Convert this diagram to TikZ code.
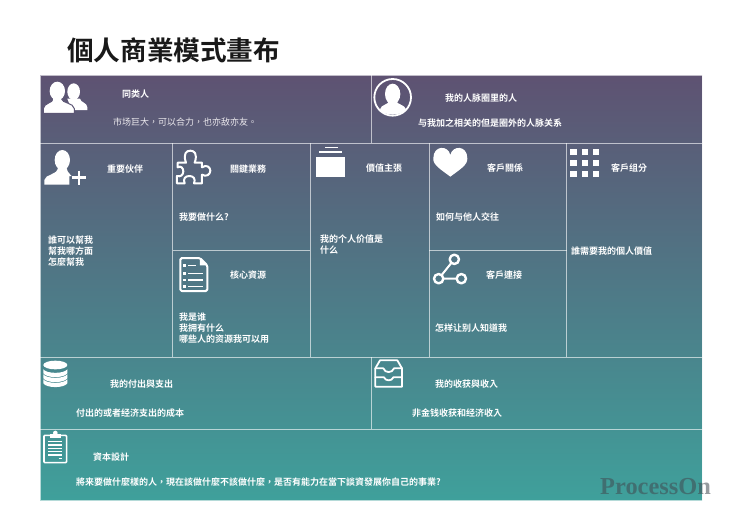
\documentclass[tikz,border=0pt]{standalone}
\usepackage{fontspec}
\setmainfont{Noto Sans CJK TC}[BoldFont={Noto Sans CJK TC Bold}]
\newfontfamily\wmfont{Liberation Serif}
\tikzset{
  x=1pt,y=-1pt,
  gridline/.style={draw=white,draw opacity=.62,line width=1pt},
  lab/.style={anchor=west,inner sep=0pt,text=white,font=\fontsize{9}{11}\selectfont\bfseries,align=left},
  lablight/.style={lab,font=\fontsize{9}{11}\selectfont,text=white!88!topc},
  ico/.style={fill=white,draw=none},
  icoline/.style={draw=white,line width=2pt,line join=round,line cap=round,fill=none},
  zA/.style={shift={(30,20)},scale=1/3},
  zB/.style={shift={(370,70)},scale=1/3},
  zC/.style={shift={(30,230)},scale=1/3},
  zD/.style={shift={(300,230)},scale=1/3},
  zE/.style={shift={(30,350)},scale=1/3},
  zF/.style={shift={(360,350)},scale=1/3},
}
\definecolor{topc}{HTML}{5E5272}
\definecolor{midc}{HTML}{4E7787}
\definecolor{botc}{HTML}{3FA09B}
\begin{document}
\begin{tikzpicture}
\useasboundingbox (0,0) rectangle (740,531);
\fill[white] (0,0) rectangle (740,531);
% canvas
\shade[top color=topc,middle color=midc,bottom color=botc] (40,75) rectangle (702,500);
\draw[gridline] (40,75) rectangle (702,500);
\draw[gridline] (40,143) -- (702,143);
\draw[gridline] (40,357) -- (702,357);
\draw[gridline] (40,429) -- (702,429);
\draw[gridline] (371,75) -- (371,143);
\draw[gridline] (371,357) -- (371,429);
\draw[gridline] (172.5,143) -- (172.5,357);
\draw[gridline] (310,143) -- (310,357);
\draw[gridline] (429,143) -- (429,357);
\draw[gridline] (566.5,143) -- (566.5,357);
\draw[gridline] (172.5,250.5) -- (310,250.5);
\draw[gridline] (429,250.5) -- (566.5,250.5);
% title
\node[anchor=west,inner sep=0pt,text=black!90,font=\fontsize{26.6}{30}\selectfont\bfseries] (title) at (67,50.5) {個人商業模式畫布};
% texts
\node[lab] (t1) at (122,94) {同类人};
\node[lablight] (b1) at (113,122.5) {市场巨大，可以合力，也亦敌亦友。};
\node[lab] (t2) at (445,98) {我的人脉圈里的人};
\node[lab] (b2) at (418,122.7) {与我加之相关的但是圈外的人脉关系};
\node[lab] (t3) at (107,169) {重要伙伴};
\node[lab] (b3) at (48,251) {誰可以幫我\\幫我哪方面\\怎麼幫我};
\node[lab] (t4) at (230,169) {關鍵業務};
\node[lab] (b4) at (179,217) {我要做什么?};
\node[lab] (t5) at (366,168) {價值主張};
\node[lab] (b5) at (320,244.5) {我的个人价值是\\什么};
\node[lab] (t6) at (487,168) {客戶關係};
\node[lab] (b6) at (436,217) {如何与他人交往};
\node[lab] (t7) at (611,168) {客戶组分};
\node[lab] (b7) at (571,251) {誰需要我的個人價值};
\node[lab] (t8) at (230,275) {核心資源};
\node[lab] (b8) at (179,328) {我是谁\\我拥有什么\\哪些人的资源我可以用};
\node[lab] (t9) at (486,275) {客戶連接};
\node[lab] (b9) at (435,328) {怎样让别人知道我};
\node[lab] (t10) at (110,384) {我的付出與支出};
\node[lab] (b10) at (76,413) {付出的或者经济支出的成本};
\node[lab] (t11) at (435,384) {我的收获與收入};
\node[lab] (b11) at (412,413) {非金钱收获和经济收入};
\node[lab] (t12) at (93,457) {資本設計};
\node[lab] (b12) at (76,482) {將来要做什麼樣的人，現在該做什麼不該做什麼，是否有能力在當下談資發展你自己的事業?};
% two persons
\begin{scope}[zA]
  \fill[ico] (131,215) ellipse (19 and 25);
  \fill[ico] (112,236) -- (150,236) .. controls (152,248) and (172,248) .. (172,262) -- (172,270) -- (125,270) -- cycle;
  \filldraw[fill=white,draw=topc!88!midc,line width=1pt] (40,280) -- (40,266) .. controls (42,248) and (68,250) .. (70,236) -- (94,236) .. controls (96,250) and (131,248) .. (133,266) -- (133,280) -- cycle;
  \fill[ico] (82,213) ellipse (23 and 28);
  \fill[ico] (70,232) rectangle (94,252);
\end{scope}
% person in circle
\begin{scope}[zB]
  \draw[icoline,line width=1.8pt] (68,82) circle (55);
  \fill[ico] (68,72) ellipse (23 and 31);
  \fill[ico] (30,118) .. controls (33,103) and (55,105) .. (58,92) -- (78,92) .. controls (82,105) and (104,103) .. (108,118) .. controls (95,139) and (40,139) .. (30,118) -- cycle;
  % heart
  \fill[ico] (241,320) .. controls (215,300) and (188,285) .. (190,265) .. controls (190,225) and (235,225) .. (241,255) .. controls (247,225) and (292,225) .. (292,265) .. controls (294,285) and (267,300) .. (241,320) -- cycle;
  % grid
  \foreach \gx in {601,635,668} \foreach \gy in {236,269,302} \fill[ico] (\gx,\gy) rectangle ++(19,19);
\end{scope}
% person plus and puzzle, box
\begin{scope}[zA]
  \fill[ico] (97,420) ellipse (23 and 30);
  \fill[ico] (43,494) -- (43,480) .. controls (46,462) and (80,466) .. (84,444) -- (110,444) .. controls (112,460) and (122,462) .. (125,468) -- (118,468) -- (118,494) -- cycle;
  \draw[white,line width=2.6pt] (125,473) -- (168,473) (147,452) -- (147,494);
  \draw[icoline] (443,428) -- (468,428) .. controls (458,400) and (470,392) .. (481,392) .. controls (492,392) and (504,400) .. (494,428) -- (516,428) -- (516,442) .. controls (530,432) and (541,442) .. (541,452) .. controls (541,464) and (528,472) .. (516,464) -- (516,490) -- (492,490) .. controls (498,476) and (490,468) .. (478,468) .. controls (466,468) and (458,476) .. (464,490) -- (441,490) -- (441,468) .. controls (452,472) and (460,464) .. (460,454) .. controls (460,444) and (452,436) .. (443,442) -- cycle;
  \fill[ico] (857,411) rectangle (944,472);
  \fill[ico] (866,394) rectangle (935,400);
  \fill[ico] (885,380) rectangle (925,385);
\end{scope}
% document
\begin{scope}[zC]
  \draw[icoline,rounded corners=1.5pt] (510,84) -- (451,84) -- (451,183) -- (532,183) -- (532,106) -- cycle;
  \fill[ico] (510,84) -- (532,106) -- (510,106) -- cycle;
  \foreach \ry in {107,130,150,170} \fill[ico] (459,\ry-4) rectangle (469,\ry+4);
  \draw[white,line width=1.6pt] (475,107) -- (497,107) (475,130) -- (520,130) (475,150) -- (520,150) (475,170) -- (520,170);
\end{scope}
% share
\begin{scope}[zD]
  \draw[icoline,line width=2.4pt] (463,88) circle (14) (416,146) circle (14) (484,146) circle (14);
  \draw[white,line width=2pt] (454,99) -- (425,135) (430,146) -- (470,146);
\end{scope}
% database, clipboard
\begin{scope}[zE]
  \fill[ico] (76,45) ellipse (36 and 13);
  \foreach \dd in {0,15,30} {
    \fill[ico] (40,58+\dd) .. controls (50,72+\dd) and (102,72+\dd) .. (112,58+\dd) -- (112,70+\dd) .. controls (102,85+\dd) and (50,85+\dd) .. (40,70+\dd) -- cycle;
  }
  \draw[white,line width=1.6pt,rounded corners=1pt] (42,256) rectangle (110,338);
  \fill[ico] (60,253) rectangle (92,265);
  \fill[ico] (76,249) circle (7);
  \draw[white,line width=1.2pt] (55,275) -- (97,275) (55,285) -- (97,285) (55,295) -- (97,295) (55,305) -- (97,305) (55,315) -- (97,315) (86,325) -- (97,325);
\end{scope}
% inbox
\begin{scope}[zF]
  \draw[icoline,line width=1.8pt] (60,31) -- (112,31) -- (126,55) -- (126,110) -- (46,110) -- (46,55) -- cycle;
  \draw[icoline,line width=1.8pt] (46,55) -- (70,55) .. controls (75,70) and (97,70) .. (102,55) -- (126,55);
  \draw[icoline,line width=1.8pt] (46,82) -- (72,82) .. controls (76,94) and (96,94) .. (100,82) -- (126,82);
\end{scope}
% watermark
\node[anchor=west,inner sep=0pt,text=black!78!cyan,text opacity=.55,font=\wmfont\bfseries\fontsize{24.4}{26}\selectfont] (wm) at (600,487) {ProcessOn};
\end{tikzpicture}
\end{document}
